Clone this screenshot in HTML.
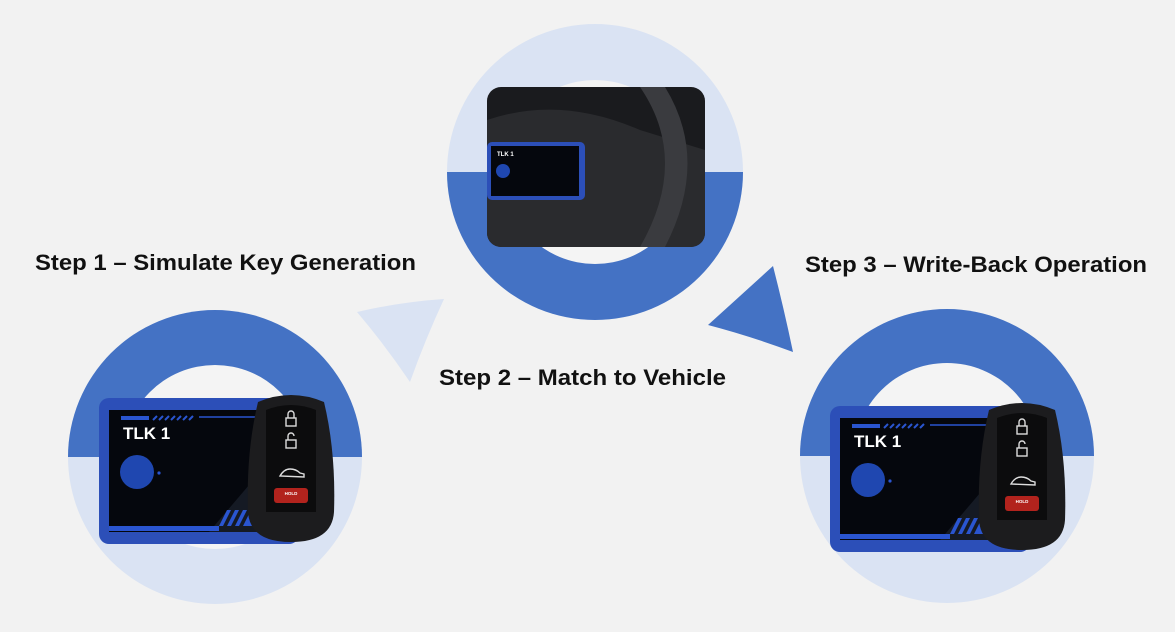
<!DOCTYPE html>
<html><head><meta charset="utf-8"><style>
html,body{margin:0;padding:0;background:#f2f2f2;}
svg{display:block}
text{font-family:"Liberation Sans",Arial,sans-serif;font-weight:bold;}
</style></head><body>
<svg width="1175" height="632" viewBox="0 0 1175 632" xmlns="http://www.w3.org/2000/svg">
<defs>
<clipPath id="ph"><rect x="487" y="87" width="218" height="160" rx="14"/></clipPath>
<g id="dev">
  <rect x="0" y="0" width="200" height="146" rx="10" fill="#2c4fb8"/>
  <rect x="10" y="12" width="180" height="122" fill="#05070d"/>
  <polygon points="110,134 190,40 190,134" fill="#151a24"/>
  <rect x="22" y="18" width="28" height="4" fill="#2a55d0"/>
  <g stroke="#2a55d0" stroke-width="2"><line x1="54" y1="22" x2="58" y2="18"/><line x1="60" y1="22" x2="64" y2="18"/><line x1="66" y1="22" x2="70" y2="18"/><line x1="72" y1="22" x2="76" y2="18"/><line x1="78" y1="22" x2="82" y2="18"/><line x1="84" y1="22" x2="88" y2="18"/><line x1="90" y1="22" x2="94" y2="18"/></g>
  <line x1="100" y1="19" x2="190" y2="19" stroke="#2a55d0" stroke-width="1.5"/>
  <text x="24" y="41" font-size="17" fill="#fff">TLK 1</text>
  <circle cx="38" cy="74" r="17" fill="#1f47b0"/>
  <circle cx="60" cy="75" r="1.6" fill="#2a55d0"/>
  <g fill="#2a55d0"><polygon points="120,128 128,112 132,112 124,128"/><polygon points="128,128 136,112 140,112 132,128"/><polygon points="136,128 144,112 148,112 140,128"/><polygon points="144,128 152,112 190,112 190,128"/></g>
  <rect x="10" y="128" width="110" height="5" fill="#2a55d0"/>
</g>
<g id="fob">
  <path d="M12,10 Q45,-4 78,10 Q90,60 88,120 Q86,150 45,150 Q4,150 2,120 Q0,60 12,10Z" fill="#1c1c1e"/>
  <path d="M20,18 Q45,8 70,18 L70,120 L20,120Z" fill="#0c0c0d"/>
  <g stroke="#ddd" stroke-width="1.4" fill="none">
    <rect x="40" y="26" width="10" height="8"/><path d="M42,26 v-4 a3,3 0 0 1 6,0 v4"/>
    <rect x="40" y="48" width="10" height="8"/><path d="M42,48 v-4 a3,3 0 0 1 6,0"/>
    <path d="M34,84 q4,-7 10,-7 q6,0 10,4 l4,1 v3 z"/>
  </g>
  <rect x="28" y="96" width="34" height="15" rx="3" fill="#b2231d"/>
  <text x="45" y="103" font-size="4.5" fill="#fff" text-anchor="middle">HOLD</text>
</g>
</defs>

<circle cx="215" cy="457" r="147" fill="#dae3f3"/>
<path d="M68,457 A147,147 0 0 1 362,457 Z" fill="#4472c4"/>
<circle cx="215" cy="457" r="92" fill="#f4f4f4"/>
<circle cx="595" cy="172" r="148" fill="#dae3f3"/>
<path d="M447,172 A148,148 0 0 0 743,172 Z" fill="#4472c4"/>
<circle cx="595" cy="172" r="92" fill="#f4f4f4"/>
<circle cx="947" cy="456" r="147" fill="#dae3f3"/>
<path d="M800,456 A147,147 0 0 1 1094,456 Z" fill="#4472c4"/>
<circle cx="947" cy="456" r="93" fill="#f4f4f4"/>

<path d="M357,312 Q400,302 444,299 Q425,340 410,382 Q385,345 357,312Z" fill="#dae3f3"/>
<path d="M708,325 Q740,296 773,266 Q784,309 793,352 Q750,336 708,325Z" fill="#4472c4"/>

<g clip-path="url(#ph)">
<rect x="487" y="87" width="218" height="160" fill="#1a1b1e"/>
<path d="M487,120 Q560,95 640,130 L705,150 L705,247 L487,247Z" fill="#2a2b2e"/>
<path d="M640,87 Q690,160 640,247 L665,247 Q710,160 665,87Z" fill="#3a3b3f"/>
<rect x="487" y="142" width="98" height="58" rx="5" fill="#2c4fb8"/>
<rect x="491" y="146" width="88" height="50" fill="#05070d"/>
<text x="497" y="156" font-size="6" fill="#fff">TLK 1</text>
<circle cx="503" cy="171" r="7" fill="#1f47b0"/>
</g>

<use href="#dev" x="99" y="398"/>
<use href="#fob" x="246" y="392"/>
<use href="#dev" x="830" y="406"/>
<use href="#fob" x="977" y="400"/>

<text x="35" y="270" font-size="22" fill="#111" textLength="381" lengthAdjust="spacingAndGlyphs">Step 1 – Simulate Key Generation</text>
<text x="805" y="272" font-size="22" fill="#111" textLength="342" lengthAdjust="spacingAndGlyphs">Step 3 – Write-Back Operation</text>
<text x="439" y="385" font-size="22" fill="#111" textLength="287" lengthAdjust="spacingAndGlyphs">Step 2 – Match to Vehicle</text>
</svg>
</body></html>
